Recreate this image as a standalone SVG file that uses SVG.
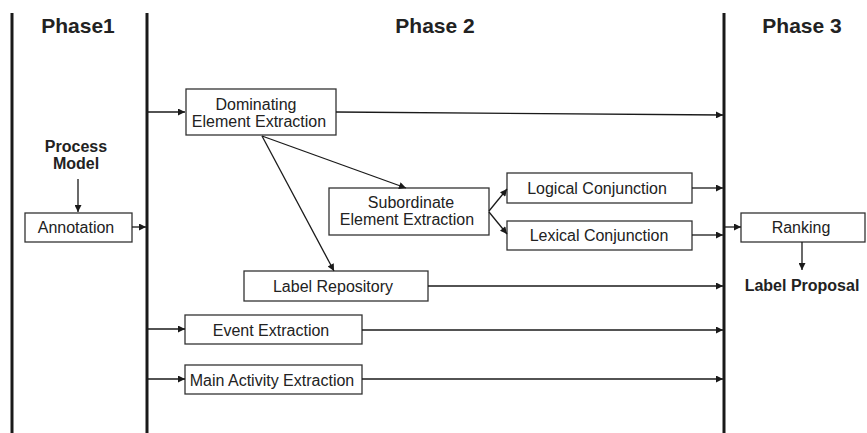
<svg xmlns="http://www.w3.org/2000/svg" width="867" height="433" viewBox="0 0 867 433">
  <defs>
    <marker id="arrow" viewBox="0 0 10 10" refX="10" refY="5" markerWidth="9" markerHeight="7" markerUnits="userSpaceOnUse" orient="auto">
      <path d="M0,0 L10,5 L0,10 Z" fill="#1a1a1a"/>
    </marker>
  </defs>
  <style>
    .bg { fill: #ffffff; }
    .phase { stroke: #1a1a1a; stroke-width: 3; fill: none; }
    .box rect { fill: #ffffff; stroke: #333333; stroke-width: 1.3; }
    .box text { font-family: "Liberation Sans", Arial, sans-serif; font-size: 16px; fill: #222222; text-anchor: middle; }
    .head { font-family: "Liberation Sans", Arial, sans-serif; font-size: 21px; font-weight: bold; fill: #222222; text-anchor: middle; }
    .term { font-family: "Liberation Sans", Arial, sans-serif; font-size: 16px; font-weight: bold; fill: #222222; text-anchor: middle; }
    .edges line { stroke: #1a1a1a; stroke-width: 1.3; marker-end: url(#arrow); }
  </style>

  <rect class="bg" x="0" y="0" width="867" height="433"/>

  <!-- phase separators -->
  <g id="phase-lines">
    <line class="phase" x1="12" y1="13" x2="12" y2="433"/>
    <line class="phase" x1="147" y1="13" x2="147" y2="433"/>
    <line class="phase" x1="724" y1="13" x2="724" y2="433"/>
  </g>

  <!-- phase headings -->
  <g id="headings">
    <text class="head" x="78" y="33">Phase1</text>
    <text class="head" x="435" y="33">Phase 2</text>
    <text class="head" x="802" y="33">Phase 3</text>
  </g>

  <!-- input / output terms -->
  <g id="process-model">
    <text class="term" x="76" y="152">Process</text>
    <text class="term" x="76" y="169">Model</text>
  </g>
  <g id="label-proposal">
    <text class="term" x="802" y="291">Label Proposal</text>
  </g>

  <!-- nodes -->
  <g id="annotation" class="box">
    <rect x="25" y="213" width="107" height="29"/>
    <text x="76" y="233">Annotation</text>
  </g>
  <g id="dominating" class="box">
    <rect x="186" y="89" width="150" height="46"/>
    <text x="256" y="110">Dominating</text>
    <text x="259" y="127">Element Extraction</text>
  </g>
  <g id="subordinate" class="box">
    <rect x="329" y="188" width="160" height="47"/>
    <text x="411" y="208">Subordinate</text>
    <text x="407" y="225">Element Extraction</text>
  </g>
  <g id="logical" class="box">
    <rect x="507" y="173" width="185" height="30"/>
    <text x="597" y="194">Logical Conjunction</text>
  </g>
  <g id="lexical" class="box">
    <rect x="507" y="221" width="185" height="29"/>
    <text x="599" y="241">Lexical Conjunction</text>
  </g>
  <g id="label-repository" class="box">
    <rect x="244" y="271" width="184" height="30"/>
    <text x="333" y="292">Label Repository</text>
  </g>
  <g id="event" class="box">
    <rect x="185" y="315" width="177" height="29"/>
    <text x="271" y="336">Event Extraction</text>
  </g>
  <g id="main-activity" class="box">
    <rect x="185" y="365" width="177" height="29"/>
    <text x="272" y="386">Main Activity Extraction</text>
  </g>
  <g id="ranking" class="box">
    <rect x="741" y="213" width="124" height="29"/>
    <text x="801" y="233">Ranking</text>
  </g>

  <!-- connectors -->
  <g id="connectors" class="edges">
    <line x1="78" y1="179" x2="78" y2="212"/>
    <line x1="132" y1="227" x2="146" y2="227"/>
    <line x1="148" y1="112" x2="185" y2="112"/>
    <line x1="336" y1="112" x2="723" y2="115"/>
    <line x1="262" y1="136" x2="406" y2="188"/>
    <line x1="262" y1="136" x2="334" y2="271"/>
    <line x1="489" y1="211" x2="507" y2="189"/>
    <line x1="489" y1="212" x2="507" y2="234"/>
    <line x1="692" y1="188" x2="723" y2="188"/>
    <line x1="692" y1="235" x2="723" y2="235"/>
    <line x1="428" y1="286" x2="723" y2="286"/>
    <line x1="148" y1="329" x2="185" y2="329"/>
    <line x1="362" y1="330" x2="723" y2="330"/>
    <line x1="148" y1="379" x2="185" y2="379"/>
    <line x1="362" y1="379" x2="723" y2="379"/>
    <line x1="725" y1="227" x2="741" y2="227"/>
    <line x1="802" y1="242" x2="802" y2="270"/>
  </g>
</svg>
